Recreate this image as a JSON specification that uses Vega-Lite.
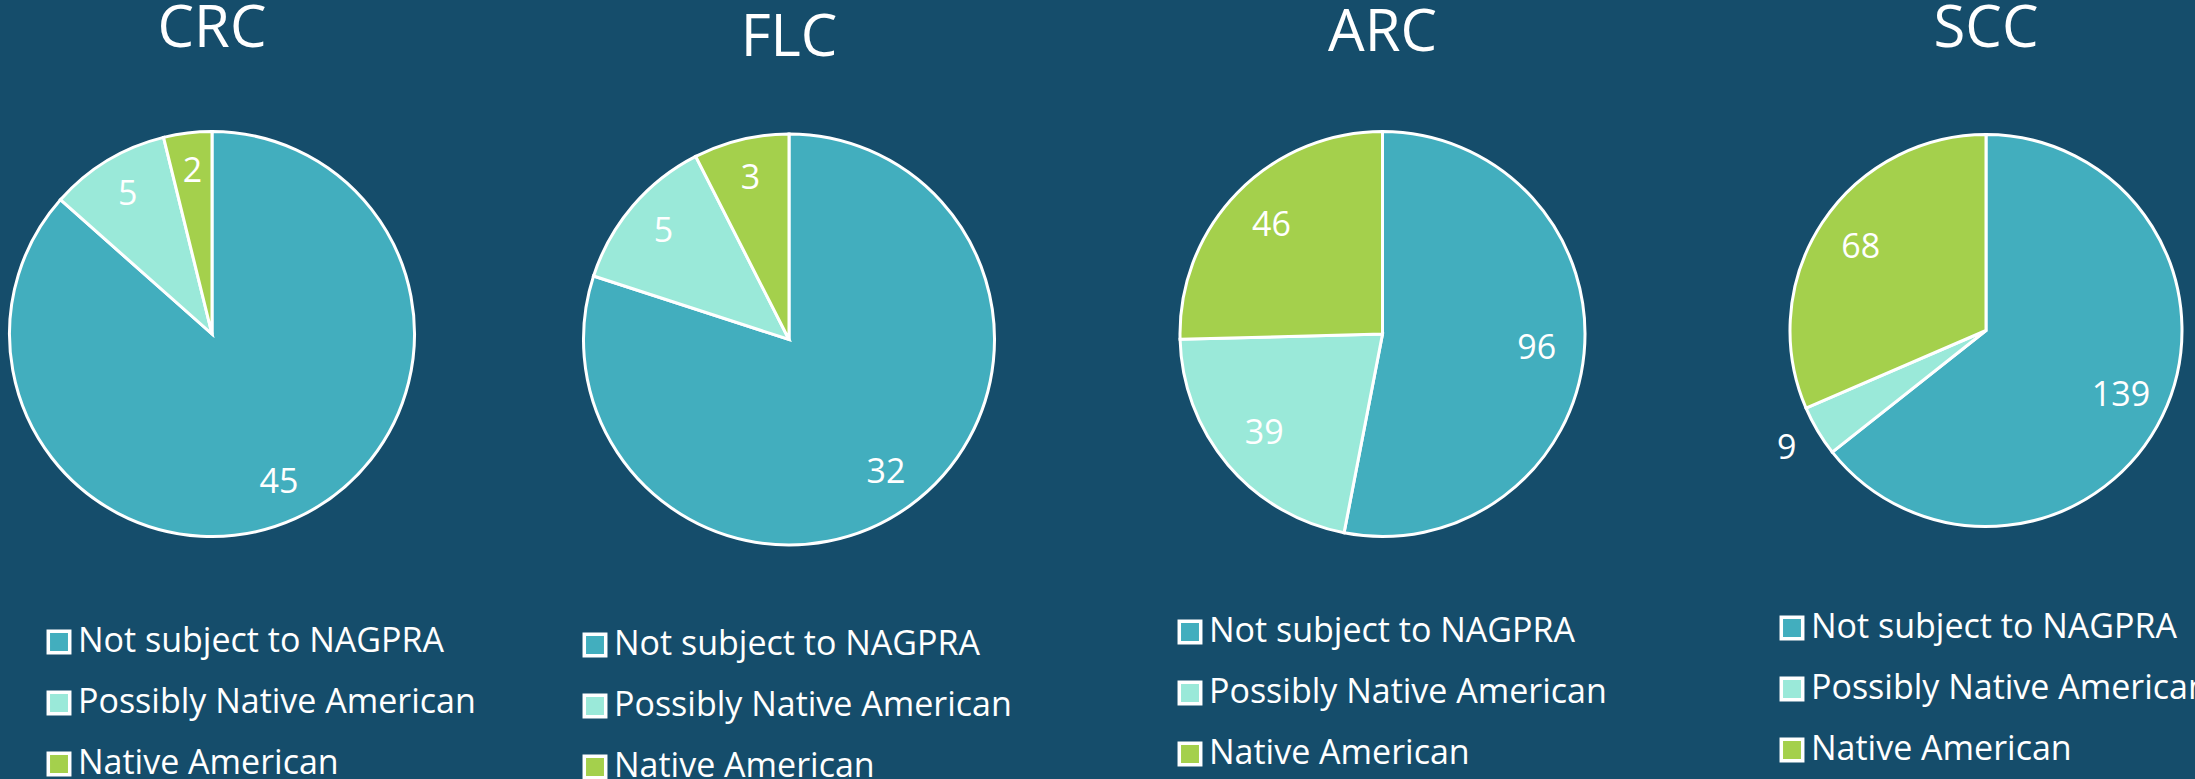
{
  "$schema": "https://vega.github.io/schema/vega-lite/v6.json",
  "background": "#154D6B",
  "padding": 0,
  "bounds": "flush",
  "spacing": 170,
  "datasets": {
    "counts": [
      {"site": "CRC", "category": "Not subject to NAGPRA", "k": 1, "count": 45},
      {"site": "CRC", "category": "Possibly Native American", "k": 2, "count": 5},
      {"site": "CRC", "category": "Native American", "k": 3, "count": 2},
      {"site": "FLC", "category": "Not subject to NAGPRA", "k": 1, "count": 32},
      {"site": "FLC", "category": "Possibly Native American", "k": 2, "count": 5},
      {"site": "FLC", "category": "Native American", "k": 3, "count": 3},
      {"site": "ARC", "category": "Not subject to NAGPRA", "k": 1, "count": 96},
      {"site": "ARC", "category": "Possibly Native American", "k": 2, "count": 39},
      {"site": "ARC", "category": "Native American", "k": 3, "count": 46},
      {"site": "SCC", "category": "Not subject to NAGPRA", "k": 1, "count": 139},
      {"site": "SCC", "category": "Possibly Native American", "k": 2, "count": 9},
      {"site": "SCC", "category": "Native American", "k": 3, "count": 68}
    ]
  },
  "resolve": {"scale": {"color": "independent", "theta": "independent"}, "legend": {"color": "independent"}},
  "hconcat": [
    {
      "title": {"text": "CRC", "offset": 67},
      "width": 424,
      "height": 410,
      "data": {"name": "counts"},
      "transform": [{"filter": "datum.site === 'CRC'"}],
      "encoding": {
        "theta": {"field": "count", "type": "quantitative", "stack": true},
        "order": {"field": "k", "type": "quantitative"},
        "color": {
          "field": "category", "type": "nominal",
          "scale": {"domain": ["Not subject to NAGPRA", "Possibly Native American", "Native American"], "range": ["#42AEBE", "#9AE9D9", "#A4D04C"]},
          "legend": {"orient": "none", "legendX": 42, "legendY": 496}
        }
      },
      "layer": [
        {"mark": {"type": "arc", "outerRadius": 202.5, "stroke": "#FFFFFF", "strokeWidth": 3}},
        {"mark": {"type": "text", "radius": 163, "fill": "#FFFFFF", "font": "Open Sans", "fontSize": 34, "align": "center", "baseline": "middle"},
         "encoding": {"text": {"field": "count", "type": "quantitative"}, "color": {"value": "#FFFFFF"}}}
      ]
    },
    {
      "title": {"text": "FLC", "offset": 60},
      "width": 390,
      "height": 421,
      "data": {"name": "counts"},
      "transform": [{"filter": "datum.site === 'FLC'"}],
      "encoding": {
        "theta": {"field": "count", "type": "quantitative", "stack": true},
        "order": {"field": "k", "type": "quantitative"},
        "color": {
          "field": "category", "type": "nominal",
          "scale": {"domain": ["Not subject to NAGPRA", "Possibly Native American", "Native American"], "range": ["#42AEBE", "#9AE9D9", "#A4D04C"]},
          "legend": {"orient": "none", "legendX": -16, "legendY": 499}
        }
      },
      "layer": [
        {"mark": {"type": "arc", "outerRadius": 205.5, "stroke": "#FFFFFF", "strokeWidth": 3}},
        {"mark": {"type": "text", "radius": 165, "fill": "#FFFFFF", "font": "Open Sans", "fontSize": 34, "align": "center", "baseline": "middle"},
         "encoding": {"text": {"field": "count", "type": "quantitative"}, "color": {"value": "#FFFFFF"}}}
      ]
    },
    {
      "title": {"text": "ARC", "offset": 63},
      "width": 457,
      "height": 410,
      "data": {"name": "counts"},
      "transform": [{"filter": "datum.site === 'ARC'"}],
      "encoding": {
        "theta": {"field": "count", "type": "quantitative", "stack": true},
        "order": {"field": "k", "type": "quantitative"},
        "color": {
          "field": "category", "type": "nominal",
          "scale": {"domain": ["Not subject to NAGPRA", "Possibly Native American", "Native American"], "range": ["#42AEBE", "#9AE9D9", "#A4D04C"]},
          "legend": {"orient": "none", "legendX": 19, "legendY": 486}
        }
      },
      "layer": [
        {"mark": {"type": "arc", "outerRadius": 202.5, "stroke": "#FFFFFF", "strokeWidth": 3}},
        {"mark": {"type": "text", "radius": 155, "fill": "#FFFFFF", "font": "Open Sans", "fontSize": 34, "align": "center", "baseline": "middle"},
         "encoding": {"text": {"field": "count", "type": "quantitative"}, "color": {"value": "#FFFFFF"}}}
      ]
    },
    {
      "title": {"text": "SCC", "offset": 70},
      "width": 410,
      "height": 403,
      "data": {"name": "counts"},
      "transform": [{"filter": "datum.site === 'SCC'"}],
      "encoding": {
        "theta": {"field": "count", "type": "quantitative", "stack": true},
        "order": {"field": "k", "type": "quantitative"},
        "color": {
          "field": "category", "type": "nominal",
          "scale": {"domain": ["Not subject to NAGPRA", "Possibly Native American", "Native American"], "range": ["#42AEBE", "#9AE9D9", "#A4D04C"]},
          "legend": {"orient": "none", "legendX": -6, "legendY": 482}
        }
      },
      "layer": [
        {"mark": {"type": "arc", "outerRadius": 196, "stroke": "#FFFFFF", "strokeWidth": 3}},
        {"mark": {"type": "text", "radius": 150, "fill": "#FFFFFF", "font": "Open Sans", "fontSize": 34, "align": "center", "baseline": "middle"},
         "encoding": {"text": {"condition": {"test": "datum.count >= 20", "field": "count", "type": "quantitative"}, "value": ""}, "color": {"value": "#FFFFFF"}}},
        {"mark": {"type": "text", "radius": 232, "fill": "#FFFFFF", "font": "Open Sans", "fontSize": 34, "align": "center", "baseline": "middle"},
         "encoding": {"text": {"condition": {"test": "datum.count < 20", "field": "count", "type": "quantitative"}, "value": ""}, "color": {"value": "#FFFFFF"}}}
      ]
    }
  ],
  "config": {
    "view": {"stroke": null},
    "title": {"font": "Open Sans", "fontSize": 58, "fontWeight": "normal", "color": "#FFFFFF", "anchor": "middle"},
    "legend": {
      "title": null,
      "labelFont": "Open Sans",
      "labelFontSize": 34,
      "labelColor": "#FFFFFF",
      "labelLimit": 0,
      "labelOffset": 2,
      "symbolType": "square",
      "symbolSize": 460,
      "symbolStrokeColor": "#FFFFFF",
      "symbolStrokeWidth": 3.5,
      "symbolOpacity": 1,
      "rowPadding": 25,
      "direction": "vertical"
    }
  }
}
